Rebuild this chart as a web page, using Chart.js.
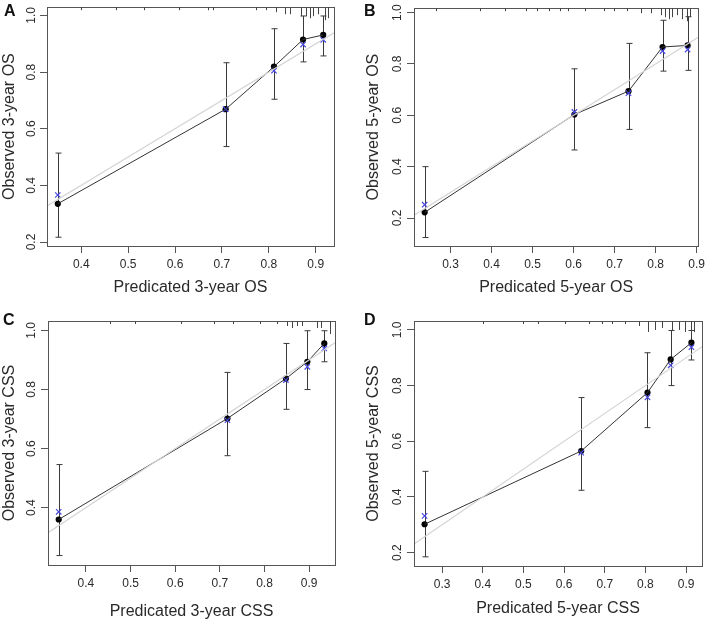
<!DOCTYPE html>
<html>
<head>
<meta charset="utf-8">
<script src="https://cdn.jsdelivr.net/npm/chart.js@4.4.1/dist/chart.umd.min.js"></script>
<style>
  body { margin: 0; background: #fff; width: 709px; height: 621px; position: relative; overflow: hidden;
         font-family: "Liberation Sans", Arial, sans-serif; }
  .panel { position: absolute; }
  .tag { position: absolute; font-weight: bold; font-size: 16px; color: #111; line-height: 16px; }
</style>
</head>
<body>
<div class="panel" style="left:0;top:0;width:354px;height:310px"><canvas id="chartA"></canvas></div>
<div class="panel" style="left:354px;top:0;width:355px;height:310px"><canvas id="chartB"></canvas></div>
<div class="panel" style="left:0;top:310px;width:354px;height:311px"><canvas id="chartC"></canvas></div>
<div class="panel" style="left:354px;top:310px;width:355px;height:311px"><canvas id="chartD"></canvas></div>
<div class="tag" style="left:4px;top:3px">A</div>
<div class="tag" style="left:364px;top:3px">B</div>
<div class="tag" style="left:3px;top:312px">C</div>
<div class="tag" style="left:364px;top:312px">D</div>
<script>
// Panel A - 3-year OS
const predA = [0.350, 0.708, 0.811, 0.873, 0.916];
const obsA  = [0.335, 0.669, 0.819, 0.915, 0.931];
const corrA = [0.366, 0.669, 0.805, 0.897, 0.914];
const lowA  = [0.217, 0.537, 0.704, 0.836, 0.857];
const highA = [0.514, 0.833, 0.953, 0.998, 0.998];
const rugA  = [0.400, 0.474, 0.534, 0.609, 0.671, 0.680, 0.772, 0.795, 0.816, 0.834, 0.845, 0.869, 0.880, 0.887, 0.894, 0.905, 0.919, 0.926];
const rugNA = [1, 1, 1, 1, 1, 1, 1, 1, 2, 3, 3, 4, 4, 5, 4, 3, 6, 5];

// Panel B - 5-year OS
const predB = [0.237, 0.602, 0.734, 0.817, 0.878];
const obsB  = [0.222, 0.603, 0.694, 0.866, 0.872];
const corrB = [0.252, 0.613, 0.686, 0.850, 0.856];
const lowB  = [0.124, 0.465, 0.545, 0.772, 0.775];
const highB = [0.400, 0.781, 0.880, 0.970, 0.984];
const rugB  = [0.265, 0.371, 0.433, 0.483, 0.511, 0.539, 0.567, 0.587, 0.627, 0.675, 0.699, 0.731, 0.764, 0.788, 0.812, 0.824, 0.832, 0.840, 0.852, 0.864, 0.876, 0.884];
const rugNB = [1, 1, 1, 1, 1, 1, 1, 1, 1, 1, 1, 1, 2, 2, 3, 4, 5, 4, 3, 5, 6, 4];

// Panel C - 3-year CSS
const predC = [0.339, 0.717, 0.848, 0.896, 0.934];
const obsC  = [0.360, 0.702, 0.837, 0.894, 0.956];
const corrC = [0.386, 0.696, 0.832, 0.877, 0.939];
const lowC  = [0.238, 0.576, 0.733, 0.800, 0.894];
const highC = [0.546, 0.858, 0.956, 0.999, 0.999];
const rugC  = [0.454, 0.510, 0.614, 0.686, 0.730, 0.790, 0.828, 0.850, 0.861, 0.872, 0.884, 0.917, 0.926, 0.946];
const rugNC = [1, 1, 1, 1, 1, 1, 1, 2, 3, 2, 2, 3, 3, 6];

// Panel D - 5-year CSS
const predD = [0.257, 0.642, 0.805, 0.862, 0.913];
const obsD  = [0.302, 0.565, 0.775, 0.894, 0.954];
const corrD = [0.332, 0.559, 0.758, 0.873, 0.938];
const lowD  = [0.185, 0.424, 0.649, 0.800, 0.892];
const highD = [0.492, 0.757, 0.918, 0.998, 0.998];
const rugD  = [0.401, 0.500, 0.537, 0.602, 0.660, 0.693, 0.717, 0.750, 0.783, 0.806, 0.824, 0.841, 0.865, 0.882, 0.898, 0.911, 0.919];
const rugND = [1, 1, 1, 1, 1, 1, 1, 1, 2, 5, 4, 3, 4, 4, 5, 6, 5];

// Tick labels
const xTicksA = [0.4, 0.5, 0.6, 0.7, 0.8, 0.9];
const xTicksB = [0.3, 0.4, 0.5, 0.6, 0.7, 0.8, 0.9];
const xTicksC = [0.4, 0.5, 0.6, 0.7, 0.8, 0.9];
const xTicksD = [0.3, 0.4, 0.5, 0.6, 0.7, 0.8, 0.9];
const yTicksA = [0.2, 0.4, 0.6, 0.8, 1.0];
const yTicksB = [0.2, 0.4, 0.6, 0.8, 1.0];
const yTicksC = [0.4, 0.6, 0.8, 1.0];
const yTicksD = [0.2, 0.4, 0.6, 0.8, 1.0];

const axisColor = '#555';
const textColor = '#2a2a2a';

// draws the box, the error bars and the rug of predictions
const calibPlugin = {
    id: 'calib',
    beforeDatasetsDraw(chart) {
        const c = chart.options.plugins.calib;
        const ctx = chart.ctx, xs = chart.scales.x, ys = chart.scales.y;
        ctx.save();
        ctx.strokeStyle = '#3a3a3a';
        ctx.lineWidth = 1;
        for (let i = 0; i < c.pred.length; i++) {
            const px = Math.round(xs.getPixelForValue(c.pred[i])) + 0.5;
            const y1 = ys.getPixelForValue(c.low[i]);
            const y2 = ys.getPixelForValue(c.high[i]);
            ctx.beginPath();
            ctx.moveTo(px, y1); ctx.lineTo(px, y2);
            ctx.moveTo(px - 3, y1); ctx.lineTo(px + 3, y1);
            ctx.moveTo(px - 3, y2); ctx.lineTo(px + 3, y2);
            ctx.stroke();
        }
        ctx.restore();
    },
    afterDraw(chart) {
        const c = chart.options.plugins.calib;
        const ctx = chart.ctx, xs = chart.scales.x;
        const a = chart.chartArea;
        ctx.save();
        ctx.strokeStyle = axisColor;
        ctx.lineWidth = 1;
        ctx.strokeRect(Math.round(a.left) + 0.5, Math.round(a.top) + 0.5,
                       Math.round(a.right - a.left), Math.round(a.bottom - a.top));
        ctx.strokeStyle = '#444';
        ctx.beginPath();
        for (let i = 0; i < c.rug.length; i++) {
            const px = Math.round(xs.getPixelForValue(c.rug[i])) + 0.5;
            ctx.moveTo(px, a.top);
            ctx.lineTo(px, a.top + 1 + c.rugN[i] * 2);
        }
        ctx.stroke();
        ctx.restore();
    }
};

const makePanel = (id, p) => {
    const pts = (xv, yv) => xv.map((v, i) => ({ x: v, y: yv[i] }));
    return new Chart(document.getElementById(id), {
        type: 'scatter',
        data: {
            datasets: [
                {   // ideal line
                    type: 'line',
                    data: [{ x: p.xMin, y: p.xMin }, { x: p.xMax, y: p.xMax }],
                    borderColor: '#d4d4d4', borderWidth: 1.2, pointRadius: 0
                },
                {   // apparent line
                    type: 'line',
                    data: pts(p.pred, p.obs),
                    borderColor: '#333', borderWidth: 1, pointRadius: 0
                },
                {   // bias-corrected
                    data: pts(p.pred, p.corr),
                    pointStyle: 'crossRot', pointRadius: 3.8,
                    borderColor: '#4848e0', borderWidth: 1.2
                },
                {   // observed
                    data: pts(p.pred, p.obs),
                    pointStyle: 'circle', pointRadius: 3.1,
                    backgroundColor: '#000', borderColor: '#000', borderWidth: 0
                }
            ]
        },
        options: {
            responsive: true,
            maintainAspectRatio: false,
            animation: false,
            layout: { padding: { top: p.pad[0], right: p.pad[1], left: 0, bottom: 0 } },
            plugins: {
                legend: { display: false },
                tooltip: { enabled: false },
                calib: { pred: p.pred, low: p.low, high: p.high, rug: p.rug, rugN: p.rugN }
            },
            scales: {
                x: {
                    type: 'linear', min: p.xMin, max: p.xMax,
                    afterBuildTicks: s => { s.ticks = p.xTicks.map(v => ({ value: v })); },
                    afterFit: s => { s.height = p.xh; },
                    grid: { drawOnChartArea: false, tickLength: 7, color: axisColor },
                    border: { color: axisColor },
                    ticks: { autoSkip: false, maxRotation: 0, padding: 4, color: textColor,
                             font: { family: 'Liberation Sans', size: 12 },
                             callback: v => v.toFixed(1) },
                    title: { display: true, text: p.xTitle, color: textColor,
                             font: { family: 'Liberation Sans', size: 16 },
                             padding: { top: 0, bottom: p.xtb } }
                },
                y: {
                    type: 'linear', min: p.yMin, max: p.yMax,
                    afterBuildTicks: s => { s.ticks = p.yTicks.map(v => ({ value: v })); },
                    afterFit: s => { s.width = p.yw; },
                    grid: { drawOnChartArea: false, tickLength: 7, color: axisColor },
                    border: { color: axisColor },
                    ticks: { autoSkip: false, minRotation: 90, maxRotation: 90, crossAlign: 'center',
                             padding: p.ytp, color: textColor,
                             font: { family: 'Liberation Sans', size: 12 },
                             callback: v => v.toFixed(1) },
                    title: { display: true, text: p.yTitle, color: textColor,
                             font: { family: 'Liberation Sans', size: 16 },
                             padding: { top: p.ytt, bottom: 0 } }
                }
            }
        },
        plugins: [calibPlugin]
    });
};

makePanel('chartA', {
    pred: predA, obs: obsA, corr: corrA, low: lowA, high: highA, rug: rugA, rugN: rugNA,
    xTicks: xTicksA, yTicks: yTicksA, xMin: 0.327, xMax: 0.939, yMin: 0.186, yMax: 1.029,
    xTitle: 'Predicated 3-year OS', yTitle: 'Observed 3-year OS',
    pad: [2, 20], yw: 47, xh: 64, xtb: 13, ytt: 0, ytp: 0
});
makePanel('chartB', {
    pred: predB, obs: obsB, corr: corrB, low: lowB, high: highB, rug: rugB, rugN: rugNB,
    xTicks: xTicksB, yTicks: yTicksB, xMin: 0.211, xMax: 0.904, yMin: 0.091, yMax: 1.017,
    xTitle: 'Predicated 5-year OS', yTitle: 'Observed 5-year OS',
    pad: [3, 8], yw: 60, xh: 64, xtb: 13, ytt: 10, ytp: 1
});
makePanel('chartC', {
    pred: predC, obs: obsC, corr: corrC, low: lowC, high: highC, rug: rugC, rugN: rugNC,
    xTicks: xTicksC, yTicks: yTicksC, xMin: 0.315, xMax: 0.958, yMin: 0.206, yMax: 1.032,
    xTitle: 'Predicated 3-year CSS', yTitle: 'Observed 3-year CSS',
    pad: [11, 19], yw: 48, xh: 56, xtb: 0, ytt: 0, ytp: 1
});
makePanel('chartD', {
    pred: predD, obs: obsD, corr: corrD, low: lowD, high: highD, rug: rugD, rugN: rugND,
    xTicks: xTicksD, yTicks: yTicksD, xMin: 0.231, xMax: 0.939, yMin: 0.152, yMax: 1.032,
    xTitle: 'Predicated 5-year CSS', yTitle: 'Observed 5-year CSS',
    pad: [11, 7], yw: 60, xh: 55, xtb: 3, ytt: 10, ytp: 1
});
</script>
</body>
</html>
